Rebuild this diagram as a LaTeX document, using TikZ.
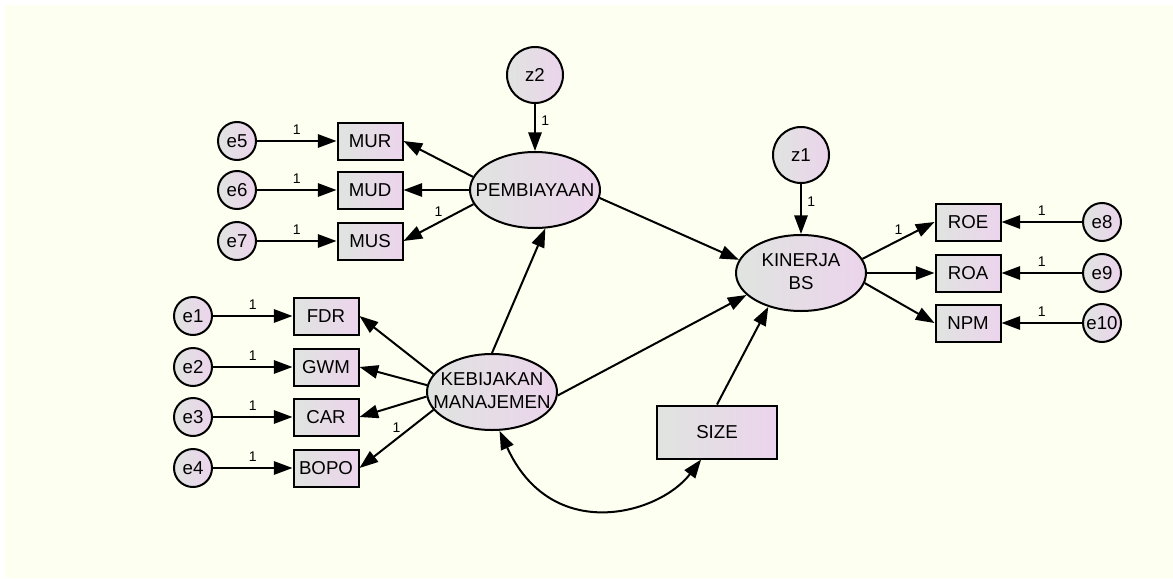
\documentclass[tikz,border=0pt]{standalone}
\usepackage{fontspec}
\setmainfont{Liberation Sans}
\usetikzlibrary{shapes.geometric,arrows.meta}

\definecolor{canvas}{RGB}{253,255,240}
\definecolor{shadegray}{RGB}{224,228,224}
\definecolor{shadepink}{RGB}{236,212,236}

\tikzset{
  base/.style={draw, line width=1.5pt, left color=shadegray, right color=shadepink,
    inner sep=0pt, font=\fontsize{14}{17.5}\selectfont},
  observed/.style={base, rectangle, minimum width=48.75pt, minimum height=27.75pt},
  latent/.style={base, ellipse, minimum width=97.5pt, minimum height=57pt},
  errorterm/.style={base, circle, minimum size=28.5pt},
  disturbance/.style={base, circle, minimum size=42pt},
  regress/.style={line width=1.5pt, -{Triangle[length=14pt,width=10pt]}},
  covary/.style={line width=1.5pt, {Triangle[length=14pt,width=10pt]}-{Triangle[length=14pt,width=10pt]}},
  weight/.style={font=\fontsize{10.5}{12}\selectfont, inner sep=4pt}
}

\begin{document}
\begin{tikzpicture}[x=0.75pt, y=-0.75pt]
  \useasboundingbox (0,0) rectangle (1173,578);
  \fill[white] (0,0) rectangle (1173,578);
  \fill[canvas] (5,5) rectangle (1173,578);

  % latent variables
  \node[latent] (pemb) at (535,190) {\makebox[0pt]{PEMBIAYAAN}};
  \node[latent] (keb) at (492,392) {\makebox[0pt]{\begin{tabular}{@{}c@{}}KEBIJAKAN\\MANAJEMEN\end{tabular}}};
  \node[latent] (kin) at (801,273) {\makebox[0pt]{\begin{tabular}{@{}c@{}}KINERJA\\BS\end{tabular}}};
  \node[disturbance] (z2) at (535,75) {z2};
  \node[disturbance] (z1) at (801,155) {z1};

  % indicators
  \node[observed] (mur) at (370,141) {MUR};
  \node[observed] (mud) at (370,190) {MUD};
  \node[observed] (mus) at (370,241) {MUS};
  \node[observed] (fdr) at (326,316) {FDR};
  \node[observed] (gwm) at (326,367) {GWM};
  \node[observed] (car) at (326,417) {CAR};
  \node[observed] (bopo) at (326,468) {BOPO};
  \node[observed] (roe) at (968,222) {ROE};
  \node[observed] (roa) at (968,273) {ROA};
  \node[observed] (npm) at (968,323) {NPM};
  \node[observed, minimum width=90pt, minimum height=39.75pt] (size) at (717,432) {SIZE};

  % error terms
  \node[errorterm] (e5) at (237,141) {e5};
  \node[errorterm] (e6) at (237,190) {e6};
  \node[errorterm] (e7) at (237,241) {e7};
  \node[errorterm] (e1) at (193,316) {e1};
  \node[errorterm] (e2) at (193,367) {e2};
  \node[errorterm] (e3) at (193,417) {e3};
  \node[errorterm] (e4) at (193,468) {e4};
  \node[errorterm] (e8) at (1102,222) {e8};
  \node[errorterm] (e9) at (1102,273) {e9};
  \node[errorterm] (e10) at (1102,323) {e10};

  \draw[regress] (e5) -- node[weight, above] (w5) {1} (mur);
  \draw[regress] (e6) -- node[weight, above] (w6) {1} (mud);
  \draw[regress] (e7) -- node[weight, above] (w7) {1} (mus);
  \draw[regress] (e1) -- node[weight, above] (w1) {1} (fdr);
  \draw[regress] (e2) -- node[weight, above] (w2) {1} (gwm);
  \draw[regress] (e3) -- node[weight, above] (w3) {1} (car);
  \draw[regress] (e4) -- node[weight, above] (w4) {1} (bopo);
  \draw[regress] (e8) -- node[weight, above] (w8) {1} (roe);
  \draw[regress] (e9) -- node[weight, above] (w9) {1} (roa);
  \draw[regress] (e10) -- node[weight, above] (w10) {1} (npm);

  \draw[regress] (z2) -- node[weight, right, pos=0.35] (wz2) {1} (pemb);
  \draw[regress] (z1) -- node[weight, right, pos=0.35] (wz1) {1} (kin);

  \draw[regress] (pemb.168) -- (mur.east);
  \draw[regress] (pemb.west) -- (mud.east);
  \draw[regress] (pemb.193) -- node[weight, above] (wmus) {1} (mus.east);

  \draw[regress] (keb.163) -- (fdr.east);
  \draw[regress] (keb.174) -- (gwm.east);
  \draw[regress] (keb.184) -- (car.east);
  \draw[regress] (keb.197) -- node[weight, above] (wbopo) {1} (bopo.east);

  \draw[regress] (kin.13) -- node[weight, above] (wroe) {1} (roe.west);
  \draw[regress] (kin.east) -- (roa.west);
  \draw[regress] (kin.351) -- (npm.west);

  \draw[regress] (keb.north) -- (pemb.285);
  \draw[regress] (pemb.353) -- (kin.168);
  \draw[regress] (keb.357) -- (kin.202);
  \draw[regress] (size.north) -- (kin.226);

  \draw[covary] (keb.281) .. controls +(52,114) and +(-42,55) .. (size.-120);
\end{tikzpicture}
\end{document}
